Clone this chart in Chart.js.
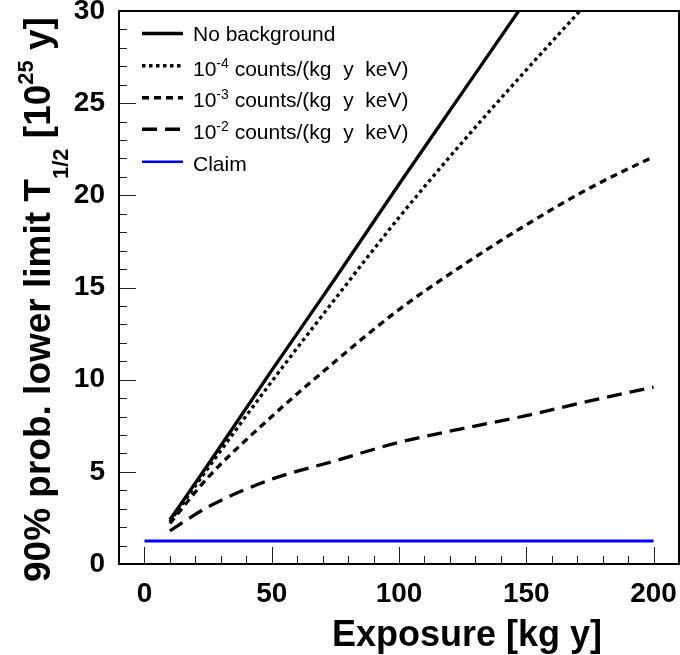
<!DOCTYPE html>
<html>
<head>
<meta charset="utf-8">
<script src="https://cdn.jsdelivr.net/npm/chart.js@4.4.1/dist/chart.umd.min.js"></script>
<style>
  html, body { margin: 0; padding: 0; background: #fff; }
  canvas { display: block; }
</style>
</head>
<body>
<canvas id="limitChart" width="680" height="655"></canvas>
<script>
// Data
const exposure = [10, 25, 50, 75, 100, 125, 150, 175, 200];
const noBackground = [2.4, 5.4, 10.5, 15.5, 20.6, 25.6, 30.6, null, null];
const bg1e4 = [2.3, 5.2, 9.9, 14.4, 18.8, 22.9, 26.8, 30.6, null];
const bg1e3 = [2.2, 4.7, 8.0, 11.0, 13.8, 16.2, 18.4, 20.4, 22.1];
const bg1e2 = [1.8, 3.1, 4.6, 5.6, 6.6, 7.35, 8.05, 8.85, 9.6];
const claimExposure = [0, 200];
const claimValue = 1.25;
const xTicks = [0, 50, 100, 150, 200];
const yTicks = [0, 5, 10, 15, 20, 25, 30];

const FONT = "'Liberation Sans', Arial, Helvetica, sans-serif";

function toPoints(xs, ys) {
    return xs.map((x, i) => ({ x: x, y: ys[i] }));
}

// legend rows: line style + label parts (text, superscript, rest)
const legendRows = [
    { dash: [], width: 3.5, color: '#000', lineY: 33.5, baseY: 41, main: 'No background' },
    { dash: [3.5, 3.5], width: 3.5, color: '#000', lineY: 65.7, baseY: 76, main: '10', sup: '-4', rest: ' counts/(kg  y  keV)' },
    { dash: [7, 5], width: 3.5, color: '#000', lineY: 97.7, baseY: 107, main: '10', sup: '-3', rest: ' counts/(kg  y  keV)' },
    { dash: [15, 8], width: 3.5, color: '#000', lineY: 129.3, baseY: 138.5, main: '10', sup: '-2', rest: ' counts/(kg  y  keV)' },
    { dash: [], width: 2.5, color: '#0000ff', lineY: 161.7, baseY: 171, main: 'Claim' }
];

// frame, inward ticks, legend and axis titles (need sub/superscripts)
const decorations = {
    id: 'decorations',
    afterDraw(chart) {
        const ctx = chart.ctx;
        const a = chart.chartArea;
        const xs = chart.scales.x;
        const ys = chart.scales.y;
        ctx.save();

        // tick marks pointing into the plot
        ctx.strokeStyle = '#222';
        ctx.lineWidth = 1;
        ctx.beginPath();
        for (let v = 0; v <= 200; v += 10) {
            const px = Math.round(xs.getPixelForValue(v)) + 0.5;
            const len = v % 50 === 0 ? 17 : 8;
            ctx.moveTo(px, a.bottom);
            ctx.lineTo(px, a.bottom - len);
        }
        for (let v = 1; v < 30; v += 1) {
            const py = Math.round(ys.getPixelForValue(v)) + 0.5;
            const len = v % 5 === 0 ? 17 : 8;
            ctx.moveTo(a.left, py);
            ctx.lineTo(a.left + len, py);
        }
        ctx.stroke();

        // plot frame
        ctx.strokeStyle = '#000';
        ctx.lineWidth = 2;
        ctx.strokeRect(a.left, a.top, a.right - a.left, a.bottom - a.top);

        // legend
        legendRows.forEach(row => {
            ctx.beginPath();
            ctx.setLineDash(row.dash);
            ctx.lineCap = 'butt';
            ctx.lineWidth = row.width;
            ctx.strokeStyle = row.color;
            ctx.moveTo(142, row.lineY);
            ctx.lineTo(183, row.lineY);
            ctx.stroke();
            ctx.setLineDash([]);

            ctx.fillStyle = '#000';
            ctx.textAlign = 'left';
            ctx.textBaseline = 'alphabetic';
            let tx = 193;
            ctx.font = '21px ' + FONT;
            ctx.fillText(row.main, tx, row.baseY);
            tx += ctx.measureText(row.main).width;
            if (row.sup) {
                ctx.font = '14px ' + FONT;
                ctx.fillText(row.sup, tx, row.baseY - 8);
                tx += ctx.measureText(row.sup).width;
                ctx.font = '21px ' + FONT;
                ctx.fillText(row.rest, tx, row.baseY);
            }
        });

        // x axis title
        ctx.fillStyle = '#000';
        ctx.font = 'bold 36px ' + FONT;
        ctx.textAlign = 'right';
        ctx.fillText('Exposure [kg y]', 602, 646);

        // y axis title, rotated
        ctx.translate(50, 582);
        ctx.rotate(-Math.PI / 2);
        ctx.textAlign = 'left';
        const parts = [
            { t: '90% prob. lower limit T', size: 37, dy: 0 },
            { t: '1/2', size: 22, dy: 18 },
            { t: ' [10', size: 37, dy: 0 },
            { t: '25', size: 22, dy: -17 },
            { t: ' y]', size: 37, dy: 0 }
        ];
        let px = 0;
        parts.forEach(p => {
            ctx.font = 'bold ' + p.size + 'px ' + FONT;
            ctx.fillText(p.t, px, p.dy);
            px += ctx.measureText(p.t).width;
        });

        ctx.restore();
    }
};

const lineStyle = (dash) => ({
    borderColor: '#000',
    borderWidth: 3.3,
    borderDash: dash,
    borderCapStyle: 'butt',
    pointRadius: 0,
    cubicInterpolationMode: 'monotone',
    fill: false
});

new Chart(document.getElementById('limitChart'), {
    type: 'line',
    data: {
        datasets: [
            Object.assign({ label: 'No background', data: toPoints(exposure, noBackground) }, lineStyle([])),
            Object.assign({ label: '1e-4', data: toPoints(exposure, bg1e4) }, lineStyle([3.5, 3.5])),
            Object.assign({ label: '1e-3', data: toPoints(exposure, bg1e3) }, lineStyle([7, 5])),
            Object.assign({ label: '1e-2', data: toPoints(exposure, bg1e2) }, lineStyle([15, 8])),
            {
                label: 'Claim',
                data: claimExposure.map(x => ({ x: x, y: claimValue })),
                borderColor: '#0000ff',
                borderWidth: 3,
                pointRadius: 0,
                fill: false
            }
        ]
    },
    options: {
        responsive: false,
        animation: false,
        devicePixelRatio: 1,
        layout: { padding: { top: 11, right: 1, left: 0, bottom: 0 } },
        plugins: {
            legend: { display: false },
            tooltip: { enabled: false }
        },
        scales: {
            x: {
                type: 'linear',
                min: -10,
                max: 210,
                grid: { display: false, drawTicks: false },
                border: { display: false },
                afterBuildTicks: (s) => { s.ticks = xTicks.map(v => ({ value: v })); },
                afterFit: (s) => { s.height = 91; s.paddingLeft = 0; s.paddingRight = 0; },
                ticks: {
                    color: '#000',
                    padding: 13,
                    maxRotation: 0,
                    font: { family: FONT, size: 28, weight: 'bold' }
                }
            },
            y: {
                type: 'linear',
                min: 0,
                max: 30,
                grid: { display: false, drawTicks: false },
                border: { display: false },
                afterBuildTicks: (s) => { s.ticks = yTicks.map(v => ({ value: v })); },
                afterFit: (s) => { s.width = 119; s.paddingTop = 0; s.paddingBottom = 0; },
                ticks: {
                    color: '#000',
                    padding: 14,
                    font: { family: FONT, size: 28, weight: 'bold' }
                }
            }
        }
    },
    plugins: [decorations]
});
</script>
</body>
</html>
